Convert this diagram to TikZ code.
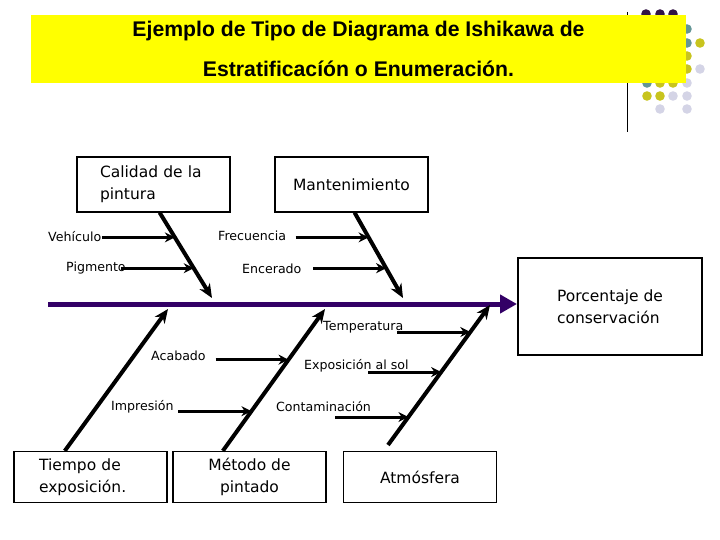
\documentclass[tikz,border=0pt]{standalone}
\usepackage{fontspec}
\setmainfont{DejaVu Sans}
\newfontfamily\titlefont{Liberation Sans}
\usepackage{tikz}
\usetikzlibrary{arrows.meta, calc, positioning}
\definecolor{spinepurple}{RGB}{51,0,102}
\definecolor{banneryellow}{RGB}{255,255,0}
\definecolor{dotpurple}{RGB}{50,20,70}
\definecolor{dotteal}{RGB}{100,150,150}
\definecolor{dotolive}{RGB}{200,196,30}
\definecolor{dotlav}{RGB}{212,212,230}
\tikzset{
  causebox/.style={rectangle, draw=black, line width=1.2pt,
    minimum width=153pt, minimum height=51pt, align=center,
    inner sep=0pt, font=\fontsize{15.5}{22}\selectfont},
  sublabel/.style={anchor=west, inner sep=0pt,
    font=\fontsize{12.6}{14}\selectfont},
  bone/.style={line width=4pt, -{Stealth[length=14pt, width=12pt]}},
  subarrow/.style={line width=3pt, -{Stealth[length=10pt, width=10pt]}},
  spine/.style={line width=5pt, color=spinepurple,
    -{Triangle[length=17pt, width=18pt]}}
}

\begin{document}
\begin{tikzpicture}[x=1pt, y=-1pt]
  \useasboundingbox (0,0) rectangle (720,540);

  % Corner decoration
  \draw[line width=1pt] (627,12) -- (627,132);
  \foreach \x/\y/\c in {646/14/dotpurple, 660/14/dotpurple, 673/14/dotpurple,
      687/29/dotteal, 687/43/dotteal, 700/43/dotolive, 687/56/dotolive,
      687/69/dotolive, 700/69/dotlav,
      647/83/dotteal, 660/83/dotolive, 673/83/dotolive, 687/83/dotlav,
      647/96/dotolive, 660/96/dotolive, 673/96/dotlav, 687/96/dotlav,
      660/109/dotlav, 687/109/dotlav}
    \fill[\c] (\x,\y) circle (4.8);

  % Title banner
  \node[fill=banneryellow, minimum width=655pt, minimum height=68pt,
    inner sep=0pt, align=center,
    font=\titlefont\bfseries\fontsize{21.2}{40}\selectfont] (title) at (358.5,49)
    {Ejemplo de Tipo de Diagrama de Ishikawa de\\Estratificacíón o Enumeración.};

  % Effect
  \node[causebox, line width=2pt, minimum width=184pt, minimum height=97pt,
    align=left] (effect) at (610,306.5) {Porcentaje de\\conservación};

  % Cause boxes
  \node[causebox, minimum height=55pt, text width=107pt, inner xsep=23pt,
    align=left] (calidad) at (153.5,184.5) {Calidad de la\\pintura};
  \node[causebox, minimum height=55pt] (mant) at (351.5,184.5) {Mantenimiento};
  \node[causebox, text width=103pt, inner xsep=25pt, align=left]
    (tiempo) at (90.5,477) {Tiempo de\\exposición.};
  \node[causebox] (metodo) at (249.5,477) {Método de\\pintado};
  \node[causebox] (atmos) at (420,477) {Atmósfera};

  % Spine
  \coordinate (tail) at (48,304);
  \draw[spine] (tail) -- (effect.west |- tail);

  % Bones
  \coordinate (j1) at (212,298);
  \coordinate (j2) at (403,298);
  \coordinate (j3) at (168,309);
  \coordinate (j4) at (325,309);
  \coordinate (j5) at (490,305);
  \coordinate (b5s) at (388,445);
  \draw[bone] ($(calidad.south west)!0.54!(calidad.south east)$) coordinate (b1s) -- (j1);
  \draw[bone] ($(mant.south west)!0.52!(mant.south east)$) coordinate (b2s) -- (j2);
  \draw[bone] ($(tiempo.north west)!0.333!(tiempo.north east)$) coordinate (b3s) -- (j3);
  \draw[bone] ($(metodo.north west)!0.327!(metodo.north east)$) coordinate (b4s) -- (j4);
  \draw[bone] (b5s) -- (j5);

  % Points on the bones
  \path (b1s) -- (j1) coordinate[pos=0.29] (veh-j) coordinate[pos=0.651] (pig-j);
  \path (b2s) -- (j2) coordinate[pos=0.29] (fre-j) coordinate[pos=0.651] (enc-j);
  \path (b4s) -- (j4) coordinate[pos=0.643] (aca-j) coordinate[pos=0.28] (imp-j);
  \path (b5s) -- (j5) coordinate[pos=0.807] (tem-j) coordinate[pos=0.521] (exp-j)
    coordinate[pos=0.2] (con-j);

  % Sub causes
  \foreach \j in {veh, pig, fre, enc, aca, imp, tem, exp, con}
    \draw[subarrow] ($(\j-j)+(-73,0)$) coordinate (\j-s) -- (\j-j);

  \node[sublabel] (veh) at (48,237) {Vehículo};
  \node[sublabel] (pig) at (66,268) {Pigmento};
  \node[sublabel] (fre) at (218,236) {Frecuencia};
  \node[sublabel] (enc) at (242,269) {Encerado};
  \node[sublabel] (tem) at (323,327) {Temperatura};
  \node[sublabel] (aca) at (151,356) {Acabado};
  \node[sublabel] (exp) at (304,366) {Exposición al sol};
  \node[sublabel] (imp) at (111,407) {Impresión};
  \node[sublabel] (con) at (276,407) {Contaminación};
\end{tikzpicture}
\end{document}
